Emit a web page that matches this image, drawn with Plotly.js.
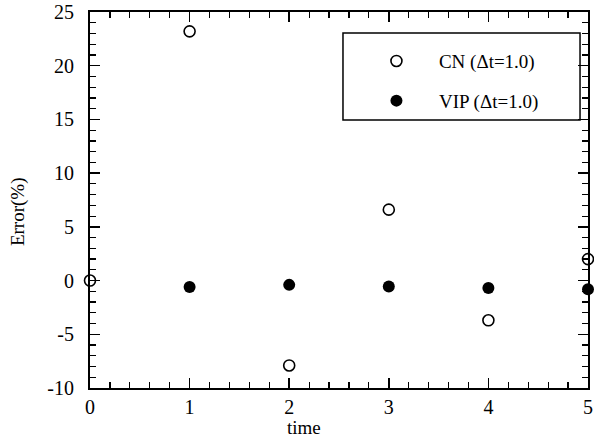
<!DOCTYPE html>
<html><head><meta charset="utf-8">
<script src="https://cdn.plot.ly/plotly-3.0.1.min.js"></script>
<style>html,body{margin:0;padding:0;background:#fff}#plot{width:594px;height:442px}</style>
</head><body><div id="plot"></div>
<script>
const timeCN = [0, 1, 2, 3, 4, 5];
const errorCN = [0, 23.2, -7.9, 6.6, -3.7, 2.0];
const timeVIP = [1, 2, 3, 4, 5];
const errorVIP = [-0.6, -0.4, -0.55, -0.7, -0.8];
const xTickVals = [0, 1, 2, 3, 4, 5];
const xTickText = ["0", "1", "2", "3", "4", "5"];
const yTickVals = [-10, -5, 0, 5, 10, 15, 20, 25];
const yTickText = ["-10", "-5", "0", "5", "10", "15", "20", "25"];
const nameCN = "CN (\u0394t=1.0)";
const nameVIP = "VIP (\u0394t=1.0)";
const xTitle = "time";
const yTitle = "Error(%)";

const font = {family: "Liberation Serif, Times New Roman, serif", color: "#000"};
const traces = [
  {x: timeCN, y: errorCN, mode: "markers", type: "scatter", name: nameCN, legendgroup: "a",
   marker: {symbol: "circle-open", size: 11, color: "#000", line: {width: 1.6, color: "#000"}}, cliponaxis: false},
  {x: timeVIP, y: errorVIP, mode: "markers", type: "scatter", name: nameVIP, legendgroup: "b",
   marker: {symbol: "circle", size: 12, color: "#000"}, cliponaxis: false}
];
const axisCommon = {
  showgrid: false, zeroline: false, showline: true, linecolor: "#000", linewidth: 2,
  mirror: "allticks", ticks: "inside", ticklen: 10, tickwidth: 1.5, tickcolor: "#000",
  tickfont: Object.assign({size: 20}, font)
};
const layout = {
  width: 594, height: 442,
  margin: {l: 90, r: 6, t: 12, b: 54},
  paper_bgcolor: "#fff", plot_bgcolor: "#fff",
  showlegend: true,
  shapes: [{type: "rect", xref: "paper", yref: "paper", x0: 0.508, x1: 0.984, y0: 0.713, y1: 0.944,
            line: {color: "#000", width: 1.5}, fillcolor: "rgba(0,0,0,0)", layer: "above"}],
  annotations: [
    {text: xTitle, xref: "paper", yref: "paper", x: 0.43, y: -0.106, xanchor: "center", yanchor: "middle",
     showarrow: false, font: Object.assign({size: 19}, font)},
    {text: yTitle, xref: "paper", yref: "paper", x: -0.145, y: 0.47, xanchor: "center", yanchor: "middle",
     textangle: -90, showarrow: false, font: Object.assign({size: 19}, font)}
  ],
  legend: {x: 0.53, y: 0.92, xanchor: "left", yanchor: "top", borderwidth: 0,
           bgcolor: "rgba(0,0,0,0)", font: Object.assign({size: 19}, font), tracegroupgap: 12, itemwidth: 75},
  xaxis: Object.assign({}, axisCommon, {range: [0, 5], tickmode: "array", tickvals: xTickVals, ticktext: xTickText,
    ticklabelstandoff: 0,
    minor: {dtick: 0.2, ticks: "inside", ticklen: 6, tickwidth: 1.2, tickcolor: "#000", showgrid: false}}),
  yaxis: Object.assign({}, axisCommon, {range: [-10, 25], tickmode: "array", tickvals: yTickVals, ticktext: yTickText,
    ticklabelstandoff: 10,
    minor: {dtick: 1, ticks: "inside", ticklen: 6, tickwidth: 1.2, tickcolor: "#000", showgrid: false}})
};
Plotly.newPlot("plot", traces, layout, {displayModeBar: false, staticPlot: true});
</script></body></html>
